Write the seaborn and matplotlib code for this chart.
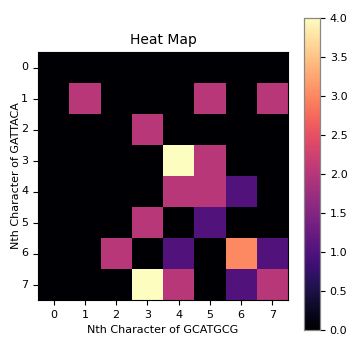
import numpy as np
import matplotlib
matplotlib.use("Agg")
import matplotlib.pyplot as plt
import seaborn as sns

x_labels = ["0", "1", "2", "3", "4", "5", "6", "7"]
y_labels = ["0", "1", "2", "3", "4", "5", "6", "7"]
row0 = [0, 0, 0, 0, 0, 0, 0, 0]
row1 = [0, 2, 0, 0, 0, 2, 0, 2]
row2 = [0, 0, 0, 2, 0, 0, 0, 0]
row3 = [0, 0, 0, 0, 4, 2, 0, 0]
row4 = [0, 0, 0, 0, 2, 2, 1, 0]
row5 = [0, 0, 0, 2, 0, 1, 0, 0]
row6 = [0, 0, 2, 0, 1, 0, 3, 1]
row7 = [0, 0, 0, 4, 2, 0, 1, 2]

data = np.array([row0, row1, row2, row3, row4, row5, row6, row7], dtype=float)

fig = plt.figure(figsize=(3.64, 3.46), dpi=100)
ax = fig.add_axes([38/364, 46/346, 250/364, 248/346])
cax = fig.add_axes([304/364, 16/346, 16/364, 312/346])

sns.heatmap(data, cmap="magma", vmin=0, vmax=4, ax=ax, cbar_ax=cax,
            xticklabels=x_labels, yticklabels=y_labels, square=False)

for s in ax.spines.values():
    s.set_visible(True)
    s.set_linewidth(0.8)
for s in cax.spines.values():
    s.set_visible(True)
    s.set_linewidth(0.8)
    s.set_edgecolor("#888888")
ax.tick_params(labelsize=8, length=3.5, width=0.8)
ax.set_yticklabels(y_labels, rotation=0)
ax.set_xticklabels(x_labels, rotation=0)
cax.tick_params(labelsize=8, length=3.5, width=0.8)
cax.set_yticks([0, 0.5, 1.0, 1.5, 2.0, 2.5, 3.0, 3.5, 4.0])
cax.set_yticklabels(["0.0", "0.5", "1.0", "1.5", "2.0", "2.5", "3.0", "3.5", "4.0"])

ax.set_title("Heat Map", fontsize=10)
ax.set_xlabel("Nth Character of GCATGCG", fontsize=8)
ax.set_ylabel("Nth Character of GATTACA", fontsize=8, labelpad=0)

fig.savefig("out.png", dpi=100)
